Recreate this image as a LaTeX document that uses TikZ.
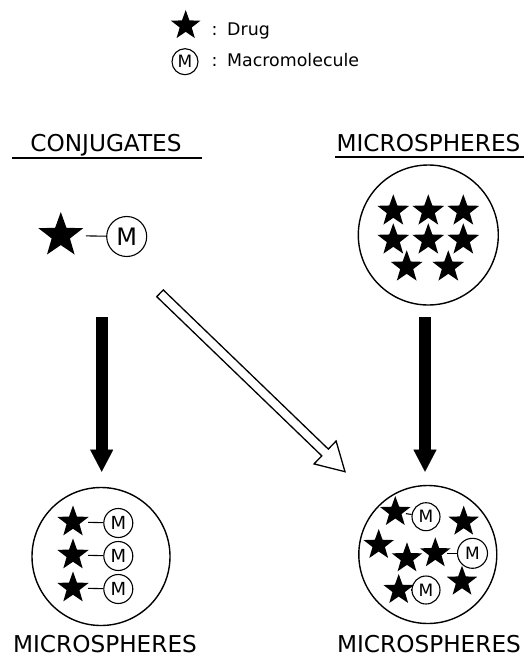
\documentclass[tikz,border=0pt]{standalone}
\usepackage{fontspec}
\setmainfont{DejaVu Sans}
\usetikzlibrary{shapes.geometric,arrows.meta,calc}
\tikzset{
  drug/.style={star, star points=5, star point ratio=2.45, fill=black, draw=none, inner sep=0pt, minimum size=#1},
  mac/.style={circle, draw, line width=1.1pt, inner sep=0pt, minimum size=#1},
  sphere/.style={circle, draw, line width=1.4pt, inner sep=0pt, minimum size=#1},
  bond/.style={line width=1.1pt},
  head/.style={font=\fontsize{23.2}{26}\selectfont, inner sep=0pt, anchor=base},
  leg/.style={font=\fontsize{17.4}{20}\selectfont, inner sep=0pt, anchor=base west},
  uline/.style={line width=1.6pt},
  bigarrow/.style={line width=12pt, -{Triangle[length=22pt,width=23pt,line width=0.1pt]}},
  hollow/.style={line width=1.3pt, fill=white, line join=miter}
}
\begin{document}
\begin{tikzpicture}[x=1pt,y=-1pt]
\useasboundingbox (0,0) rectangle (524,662);

% legend
\node[drug=31] (ls) at (185.7,25.5) {};
\node[leg] (lc1) at (211.5,35) {:};
\node[leg] (ld) at (227,35) {Drug};
\node[mac=26, font=\fontsize{17}{18}\selectfont] (lm) at (185,61.7) {M};
\node[leg] (lc2) at (211.5,66.7) {:};
\node[leg] (lmt) at (227,66.7) {Macromolecule};

% headings
\node[head] (hc) at (106,151.7) {CONJUGATES};
\coordinate (u1a) at (11.7,157.7);
\coordinate (u1b) at (202,157.7);
\draw[uline] (u1a) -- (u1b);
\node[head] (hm) at (428.5,151.7) {MICROSPHERES};
\coordinate (u2a) at (335,156.7);
\coordinate (u2b) at (523.7,156.7);
\draw[uline] (u2a) -- (u2b);

% conjugate
\node[drug=47] (cs) at (60.8,235.5) {};
\node[mac=40, font=\fontsize{24}{26}\selectfont] (cm) at (126.7,236.5) {M};
\draw[bond, shorten <=12pt] (cs) -- (cm);

% top microsphere with drugs
\node[sphere=140] (ms) at (428.3,235) {};
\foreach \x/\y [count=\i] in {393.3/211, 428.3/211, 463.3/211, 393.3/240, 428.3/240, 463.3/240, 406.7/267, 448.3/267}
  \node[drug=33.5] (t\i) at (\x,\y) {};

% black arrows
\coordinate (a1s) at (101.7,317.3);
\coordinate (a1e) at (101.7,471.7);
\draw[bigarrow] (a1s) -- (a1e);
\coordinate (a2s) at (425,317.3);
\coordinate (a2e) at (425,471.7);
\draw[bigarrow] (a2s) -- (a2e);

% hollow arrow
\coordinate (ht) at (160,293.3);
\coordinate (hp) at (345,471.7);
\coordinate (hn) at ($(ht)!229.3pt!(hp)$);
\draw[hollow] ($(ht)!4.7pt!90:(hp)$) -- ($(hn)!4.7pt!90:(hp)$) -- ($(hn)!15.9pt!90:(hp)$) -- (hp)
  -- ($(hn)!15.9pt!-90:(hp)$) -- ($(hn)!4.7pt!-90:(hp)$) -- ($(ht)!4.7pt!-90:(hp)$) -- cycle;

% bottom left microsphere
\node[sphere=138] (bl) at (101,556.5) {};
\foreach \y [count=\i] in {522,555,588} {
  \node[drug=33] (bls\i) at (73,\y) {};
  \node[mac=29, font=\fontsize{18}{20}\selectfont] (blm\i) at (118.3,\y+1) {M};
  \draw[bond, shorten <=6pt] (bls\i) -- (blm\i);
}
\node[head] (bt1) at (105,652) {MICROSPHERES};

% bottom right microsphere
\node[sphere=138] (br) at (427.8,554.5) {};
\node[drug=32] (r1) at (395.3,512) {};
\node[mac=28, font=\fontsize{17}{18}\selectfont] (rm1) at (426,516.7) {M};
\draw[bond, shorten <=3pt] (r1) -- (rm1);
\node[drug=32] (r2) at (463.7,521.7) {};
\node[drug=32] (r3) at (378.7,545) {};
\node[drug=32] (r4) at (407,558.3) {};
\node[drug=32] (r5) at (435.3,553.3) {};
\node[mac=30, font=\fontsize{17}{18}\selectfont] (rm2) at (472.5,553.3) {M};
\draw[bond, shorten <=3pt] (r5) -- (rm2);
\node[drug=32] (r6) at (398.7,590) {};
\node[mac=28, font=\fontsize{17}{18}\selectfont] (rm3) at (426,590) {M};
\draw[bond, shorten <=3pt] (r6) -- (rm3);
\node[drug=32] (r7) at (462,581.7) {};
\node[head] (bt2) at (429,652) {MICROSPHERES};
\end{tikzpicture}
\end{document}
